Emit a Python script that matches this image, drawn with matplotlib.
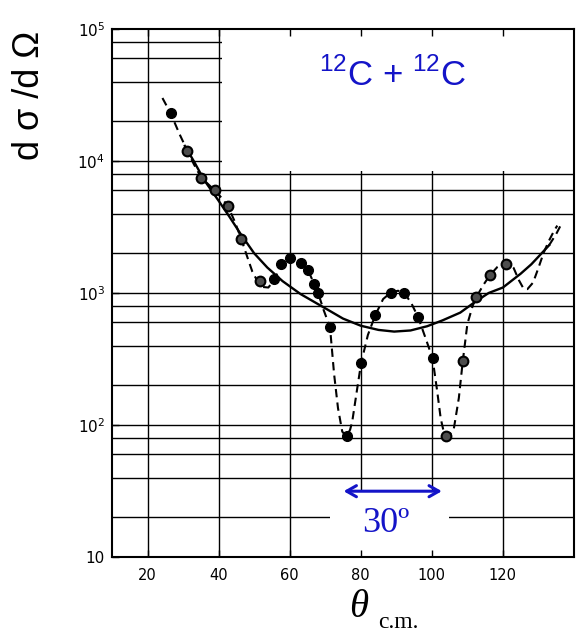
import matplotlib
matplotlib.use("Agg")
import matplotlib.pyplot as plt
from matplotlib.patches import Rectangle

# data (theta c.m. in degrees, d sigma / d Omega)
# filled points
ang_filled = [26.5, 55.7, 57.5, 60.2, 63.3, 65.2, 66.9, 68.0, 71.35, 76.0,
              80.1, 84.1, 88.5, 92.3, 96.2, 100.2]
val_filled = [23000, 1280, 1660, 1830, 1680, 1500, 1170, 1000, 552, 82,
              294, 676, 1000, 1000, 653, 324]
# hatched (open) points
ang_open = [31.0, 35.1, 38.9, 42.7, 46.3, 51.6, 104.1, 108.7, 112.5, 116.3, 121.0]
val_open = [12000, 7470, 6030, 4530, 2570, 1225, 82, 303, 933, 1360, 1670]

# dashed curve through the data
dash_ang = [24.2, 26.5, 29, 31, 33, 35.1, 37, 38.9, 41, 42.7, 44.5, 46.3, 48,
            49.5, 51.0, 52.5, 54.0, 55.7, 57.5, 59, 60.2, 61.8, 63.3, 65.2,
            66.9, 68.0, 69.5, 71.35, 72.5, 73.6, 74.8, 76.0, 77.0, 77.6, 78.9,
            80.1, 82, 84.1, 86.3, 88.5, 90.5, 92.3, 94.3, 96.2, 98.3, 100.2,
            101.5, 102.5, 103.3, 104.1, 105.2, 106.2, 107.6, 108.7, 110, 111.5,
            112.5, 114.5, 116.3, 118.5, 120, 121.5, 123, 124.5, 125.8, 126.9,
            128.5, 130, 131.5, 133, 134.4, 135.3]
dash_val = [30000, 23000, 16000, 12300, 9500, 7500, 6700, 6000, 5200, 4500,
            3500, 2600, 1900, 1450, 1220, 1110, 1100, 1260, 1620, 1820, 1870,
            1800, 1690, 1480, 1170, 1000, 750, 550, 243, 134, 89, 82, 92, 106,
            181, 294, 480, 680, 900, 1010, 1040, 1000, 830, 650, 450, 320, 181,
            112, 90, 82, 86, 94, 160, 303, 582, 800, 930, 1150, 1360, 1580,
            1680, 1700, 1550, 1250, 1080, 1070, 1200, 1550, 2030, 2500, 2960,
            3240]

# smooth solid curve
solid_ang = [30.5, 33, 35.9, 40, 43, 46.2, 50, 53.7, 58, 63.1, 70.6, 75, 80,
             85, 89.4, 94, 98.7, 103, 108, 112, 116, 120, 125, 128, 131.5, 133]
solid_val = [13000, 10000, 7200, 5000, 3800, 2800, 2000, 1560, 1230, 980, 750,
             640, 565, 525, 510, 520, 560, 620, 710, 850, 1000, 1100, 1400,
             1650, 2080, 2300]
# dashed continuation of the solid curve
tail_ang = [133, 135, 136.7]
tail_val = [2300, 2800, 3430]

x_ticks = [20, 40, 60, 80, 100, 120]
y_ticks = [10, 100, 1000, 10000, 100000]
y_labels = ['10', r'$\mathregular{10^2}$', r'$\mathregular{10^3}$',
            r'$\mathregular{10^4}$', r'$\mathregular{10^5}$']

blue = '#1414c8'

fig = plt.figure(figsize=(5.76, 6.33), dpi=100)
ax = fig.add_axes([0.1944, 0.1201, 0.8021, 0.8341])
ax.set_yscale('log')
ax.set_xlim(10, 140)
ax.set_ylim(10, 1e5)

# grid drawn by hand: decades plus 2,4,6,8 in each decade
for dec in [10, 100, 1000, 10000]:
    for m in [1, 2, 4, 6, 8]:
        ax.axhline(dec * m, color='black', lw=1.0, zorder=0.5)
for xv in x_ticks:
    ax.axvline(xv, color='black', lw=1.0, zorder=0.5)

# white areas behind the labels
ax.add_patch(Rectangle((41, 8400), 99, 1e5 - 8400, facecolor='white',
                       edgecolor='none', zorder=1))
ax.add_patch(Rectangle((71.3, 10), 104.8 - 71.3, 31.5 - 10, facecolor='white',
                       edgecolor='none', zorder=1))

ax.plot(solid_ang, solid_val, color='black', lw=1.7, zorder=3)
ax.plot(tail_ang, tail_val, color='black', lw=1.5, ls=(0, (4, 2.5)), zorder=3)
ax.plot(dash_ang, dash_val, color='black', lw=1.5, ls=(0, (4, 2.5)), zorder=3)
ax.plot(ang_filled, val_filled, 'o', color='black', ms=7, zorder=4)
ax.plot(ang_open, val_open, 'o', mfc='0.3', mec='black', mew=1.5, ms=7, zorder=4)

ax.set_xticks(x_ticks)
ax.set_xticklabels([str(v) for v in x_ticks], fontsize=10.5)
ax.set_yticks(y_ticks)
ax.set_yticklabels(y_labels, fontsize=11)
ax.yaxis.set_minor_locator(matplotlib.ticker.NullLocator())
ax.tick_params(direction='in', top=True, right=False, length=5, width=1)
ax.tick_params(axis='x', pad=8)
ax.tick_params(axis='y', pad=5)
for sp in ax.spines.values():
    sp.set_linewidth(1.5)

ax.text(89, 45000, r'$^{\mathregular{12}}$C + $^{\mathregular{12}}$C', color=blue,
        fontsize=25, family='Liberation Sans', ha='center', va='center')

ax.annotate('', xy=(74.4, 31.5), xytext=(103.6, 31.5),
            arrowprops=dict(arrowstyle='<->,head_length=0.7,head_width=0.4',
                            color=blue, lw=2.2), zorder=5)
ax.text(87, 18, '30º', color=blue, fontsize=26, family='Liberation Serif',
        ha='center', va='center')

fig.text(0.052, 0.85, 'd σ /d Ω', rotation=90, fontsize=26,
         family='Liberation Sans', ha='center', va='center')
fig.text(0.623, 0.041, 'θ', fontsize=28, family='Liberation Serif',
         style='italic', ha='center', va='center')
fig.text(0.657, 0.008, 'c.m.', fontsize=17, family='Liberation Serif',
         ha='left', va='baseline')

fig.savefig('out.png', dpi=100)
